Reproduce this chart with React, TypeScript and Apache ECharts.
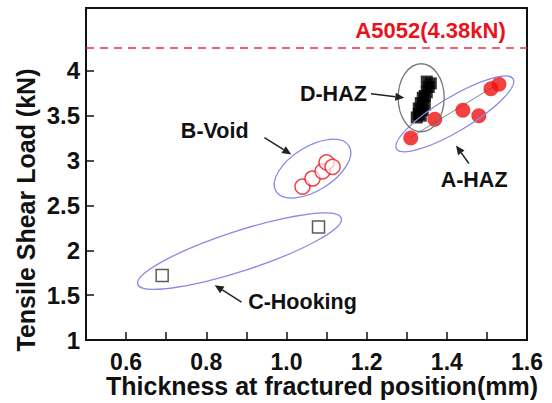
import React, { useEffect, useRef } from "react";
import * as echarts from "echarts";

// ---- data ----
const xLabelValues = [0.6, 0.8, 1.0, 1.2, 1.4, 1.6];
const yTickValues = [1, 1.5, 2, 2.5, 3, 3.5, 4];
const aHaz = [
  [1.31, 3.25],
  [1.37, 3.46],
  [1.44, 3.56],
  [1.48, 3.5],
  [1.51, 3.8],
  [1.53, 3.85],
];
const aHazTrend = [
  [1.31, 3.26],
  [1.53, 3.86],
];
const bVoid = [
  [1.04, 2.71],
  [1.065, 2.8],
  [1.09, 2.88],
  [1.1, 2.98],
  [1.115, 2.93],
];
const cHooking = [
  [0.69, 1.72],
  [1.08, 2.26],
];
const dHaz = [
  [1.325, 3.48],
  [1.33, 3.52],
  [1.335, 3.5],
  [1.33, 3.58],
  [1.34, 3.56],
  [1.335, 3.64],
  [1.345, 3.62],
  [1.34, 3.7],
  [1.345, 3.72],
  [1.35, 3.76],
  [1.355, 3.82],
  [1.36, 3.86],
  [1.35, 3.88],
];
const a5052Value = 4.26;
const a5052Label = "A5052(4.38kN)";
const xAxisName = "Thickness at fractured position(mm)";
const yAxisName = "Tensile Shear Load (kN)";

// annotations (data coordinates)
const groupEllipses = [
  { c: [1.42, 3.52], rx: 68, ry: 17, deg: 31, color: "#8a8ae6" },
  { c: [1.065, 2.91], rx: 43, ry: 22, deg: 32, color: "#8a8ae6" },
  { c: [0.883, 1.99], rx: 107, ry: 20, deg: 18, color: "#8a8ae6" },
  { c: [1.336, 3.7], rx: 23, ry: 34, deg: 0, color: "#777777" },
];
const groupLabels = [
  { text: "D-HAZ", at: [1.117, 3.744], tail: [1.211, 3.744], head: [1.294, 3.7] },
  { text: "B-Void", at: [0.821, 3.333], tail: [0.945, 3.256], head: [1.012, 3.067] },
  { text: "A-HAZ", at: [1.468, 2.778], tail: [1.455, 2.967], head: [1.423, 3.167] },
  { text: "C-Hooking", at: [1.04, 1.422], tail: [0.888, 1.422], head: [0.821, 1.611] },
];
const a5052LabelAt = [1.547, 4.444];

const FONT = "'Liberation Sans', Arial, sans-serif";

export default function App() {
  const ref = useRef<HTMLDivElement>(null);
  useEffect(() => {
    if (!ref.current) return;
    const chart = echarts.init(ref.current, undefined, { renderer: "svg" });
    chart.setOption({
      animation: false,
      backgroundColor: "#ffffff",
      grid: {
        left: 86,
        right: 25,
        top: 8,
        bottom: 63,
        show: true,
        borderColor: "#111",
        borderWidth: 2,
        backgroundColor: "transparent",
      },
      xAxis: {
        type: "value",
        min: 0.5,
        max: 1.6,
        interval: 0.1,
        axisLine: { show: true, lineStyle: { color: "#111", width: 2 } },
        axisTick: { show: true, inside: true, length: 8, lineStyle: { color: "#111", width: 1.5 } },
        axisLabel: {
          fontFamily: FONT,
          fontWeight: "bold",
          fontSize: 23,
          color: "#111",
          margin: 10,
          formatter: (v: number) => {
            const hit = xLabelValues.find((t) => Math.abs(t - v) < 1e-6);
            return hit !== undefined ? hit.toFixed(1) : "";
          },
        },
        splitLine: { show: false },
      },
      yAxis: {
        type: "value",
        min: 1,
        max: 4.7,
        interval: 0.5,
        axisLine: { show: true, lineStyle: { color: "#111", width: 2 } },
        axisTick: {
          show: true,
          inside: true,
          length: 8,
          lineStyle: { color: "#111", width: 1.5 },
          customValues: yTickValues,
        },
        axisLabel: {
          fontFamily: FONT,
          fontWeight: "bold",
          fontSize: 24,
          color: "#111",
          margin: 6,
          customValues: yTickValues,
          formatter: (v: number) =>
            yTickValues.some((t) => Math.abs(t - v) < 1e-6) ? String(v) : "",
        },
        splitLine: { show: false },
      },
      series: [
        {
          type: "line",
          data: aHazTrend,
          symbol: "none",
          lineStyle: { color: "#888", width: 1 },
          z: 1,
          markLine: {
            silent: true,
            symbol: "none",
            label: { show: false },
            lineStyle: { color: "#e8323a", type: [8, 6], width: 1.5 },
            data: [{ yAxis: a5052Value }],
          },
        },
        {
          type: "scatter",
          name: "C-Hooking",
          data: cHooking,
          symbol: "rect",
          symbolSize: 12,
          itemStyle: { color: "#ffffff", borderColor: "#333", borderWidth: 1.5 },
        },
        {
          type: "scatter",
          name: "B-Void",
          data: bVoid,
          symbol: "circle",
          symbolSize: 15,
          itemStyle: { color: "rgba(255,255,255,0.85)", borderColor: "#e8141c", borderWidth: 1.5 },
        },
        {
          type: "scatter",
          name: "D-HAZ",
          data: dHaz,
          symbol: "rect",
          symbolSize: 12,
          itemStyle: { color: "#000000" },
          z: 3,
        },
        {
          type: "scatter",
          name: "A-HAZ",
          data: aHaz,
          symbol: "circle",
          symbolSize: 15,
          itemStyle: { color: "#f01010" },
          z: 4,
        },
      ],
    });

    const px = (p: number[]) => chart.convertToPixel({ gridIndex: 0 }, p) as number[];
    const graphics: any[] = [];
    groupEllipses.forEach((e) => {
      const [cx, cy] = px(e.c);
      graphics.push({
        type: "ellipse",
        x: cx,
        y: cy,
        rotation: (e.deg * Math.PI) / 180,
        shape: { cx: 0, cy: 0, rx: e.rx, ry: e.ry },
        style: { fill: "none", stroke: e.color, lineWidth: 1.3 },
        z: 10,
      });
    });
    groupLabels.forEach((l) => {
      const [lx, ly] = px(l.at);
      const [tx, ty] = px(l.tail);
      const [hx, hy] = px(l.head);
      graphics.push({
        type: "text",
        x: lx,
        y: ly,
        style: {
          text: l.text,
          fontFamily: FONT,
          fontWeight: "bold",
          fontSize: 21.5,
          fill: "#111",
          align: "center",
          verticalAlign: "middle",
        },
        z: 12,
      });
      const ang = Math.atan2(hy - ty, hx - tx);
      const len = 9;
      const hw = 4;
      const bx = hx - len * Math.cos(ang);
      const by = hy - len * Math.sin(ang);
      const nx = -Math.sin(ang);
      const ny = Math.cos(ang);
      graphics.push({
        type: "line",
        shape: { x1: tx, y1: ty, x2: bx, y2: by },
        style: { stroke: "#222", lineWidth: 1.5 },
        z: 12,
      });
      graphics.push({
        type: "polygon",
        shape: {
          points: [
            [hx, hy],
            [bx + nx * hw, by + ny * hw],
            [bx - nx * hw, by - ny * hw],
          ],
        },
        style: { fill: "#222" },
        z: 12,
      });
    });
    const [ax, ay] = px(a5052LabelAt);
    graphics.push({
      type: "text",
      x: ax,
      y: ay,
      style: {
        text: a5052Label,
        fontFamily: FONT,
        fontWeight: "bold",
        fontSize: 22,
        fill: "#e8141c",
        align: "right",
        verticalAlign: "middle",
      },
      z: 12,
    });
    // axis titles
    graphics.push({
      type: "text",
      x: 322,
      y: 386,
      style: {
        text: xAxisName,
        fontFamily: FONT,
        fontWeight: "bold",
        fontSize: 25,
        fill: "#111",
        align: "center",
        verticalAlign: "middle",
      },
      z: 12,
    });
    graphics.push({
      type: "text",
      x: 26,
      y: 210,
      rotation: Math.PI / 2,
      style: {
        text: yAxisName,
        fontFamily: FONT,
        fontWeight: "bold",
        fontSize: 25,
        fill: "#111",
        align: "center",
        verticalAlign: "middle",
      },
      z: 12,
    });
    chart.setOption({ graphic: graphics });

    return () => chart.dispose();
  }, []);
  return (
    <div
      ref={ref}
      style={{ position: "fixed", left: 0, top: 0, width: 552, height: 403, background: "#fff" }}
    />
  );
}
